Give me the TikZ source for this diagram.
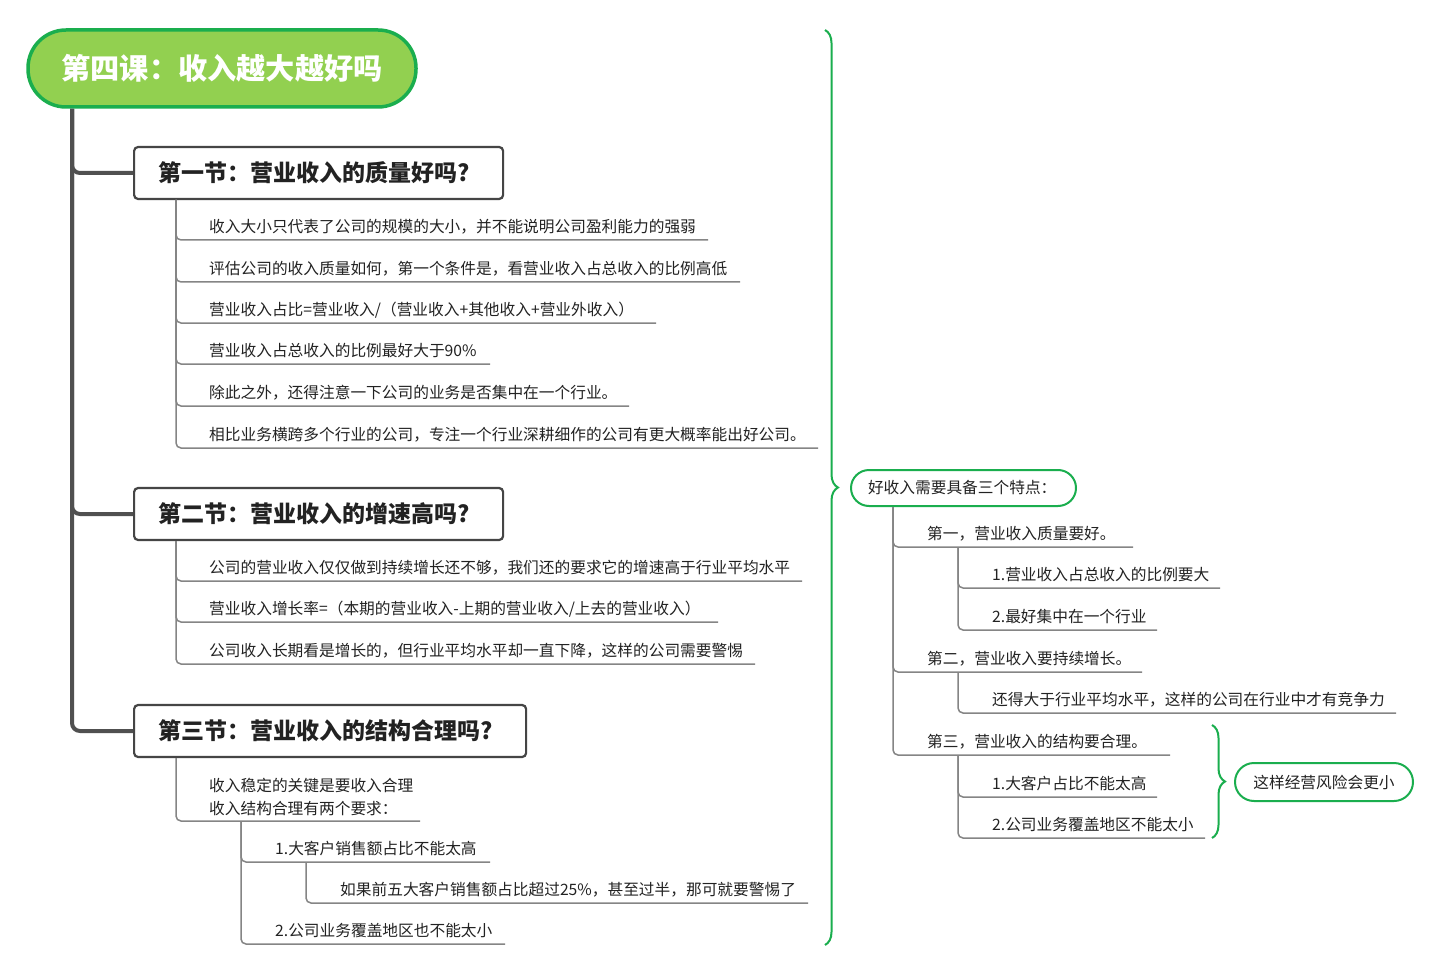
\documentclass[tikz,border=0pt]{standalone}
\usepackage{fontspec}
\setmainfont{Noto Sans CJK SC}
\usetikzlibrary{decorations.pathreplacing}
\definecolor{gfill}{HTML}{92D050}
\definecolor{gline}{HTML}{1AAE4E}
\definecolor{trunkc}{HTML}{505050}
\definecolor{boxc}{HTML}{454545}
\definecolor{leafc}{HTML}{858585}
\definecolor{txt}{HTML}{222222}
\newcommand\myitem[6]{%
  \node[itemtxt] (#1) at (#3,#4) {#6};
  \coordinate (#1e) at (#5,#4+14);
  \draw[leaf] (#2) |- (#1e);
}
\begin{document}
\begin{tikzpicture}[x=1pt,y=-1pt,
  trunk/.style={draw=trunkc, line width=4pt, rounded corners=8pt},
  leaf/.style={draw=leafc, line width=1.5pt, rounded corners=5pt},
  itemtxt/.style={anchor=west, inner sep=0pt, yshift=-1pt, font=\fontsize{15.7}{23}\selectfont, text=txt},
  secbox/.style={draw=boxc, line width=2.2pt, rounded corners=4pt, fill=white, anchor=west,
    inner xsep=24pt, inner ysep=0pt, minimum height=52pt, align=left,
    font=\fontsize{23}{26}\selectfont\bfseries, text=txt},
  gbox/.style={draw=gline, line width=2pt, fill=white, rounded corners=18pt, inner sep=0pt,
    font=\fontsize{15.7}{19}\selectfont, text=txt},
  gbrace/.style={draw=gline, line width=2pt, decorate, decoration={brace, amplitude=13pt}}
]
\useasboundingbox (0,0) rectangle (1440,976);
\fill[white] (0,0) rectangle (1440,976);

% root
\node[draw=gline, line width=3.5pt, fill=gfill, rounded corners=38pt, minimum width=388pt,
  minimum height=77pt, inner sep=0pt, text=white, font=\fontsize{29.2}{32}\selectfont\bfseries]
  (root) at (222,68.5) {第四课：收入越大越好吗};

% sections
\node[secbox, text width=321pt] (s1) at (133,173) {第一节：营业收入的质量好吗?};
\node[secbox, text width=321pt] (s2) at (133,514) {第二节：营业收入的增速高吗?};
\node[secbox, text width=344pt] (s3) at (133,731) {第三节：营业收入的结构合理吗?};

\coordinate (rt) at (72,109);
\draw[trunk] (rt) |- (s1.west);
\draw[trunk] (rt) |- (s2.west);
\draw[trunk] (rt) |- (s3.west);

% section 1 items
\coordinate (v1) at (176,200);
\myitem{a1}{v1}{209}{226}{708}{收入大小只代表了公司的规模的大小，并不能说明公司盈利能力的强弱}
\myitem{a2}{v1}{209}{268}{740}{评估公司的收入质量如何，第一个条件是，看营业收入占总收入的比例高低}
\myitem{a3}{v1}{209}{309}{656}{营业收入占比=营业收入/（营业收入+其他收入+营业外收入）}
\myitem{a4}{v1}{209}{350}{490}{营业收入占总收入的比例最好大于90\%}
\myitem{a5}{v1}{209}{392}{629}{除此之外，还得注意一下公司的业务是否集中在一个行业。}
\myitem{a6}{v1}{209}{434}{818}{相比业务横跨多个行业的公司，专注一个行业深耕细作的公司有更大概率能出好公司。}

% section 2 items
\coordinate (v2) at (176,541);
\myitem{b1}{v2}{209}{567}{802}{公司的营业收入仅仅做到持续增长还不够，我们还的要求它的增速高于行业平均水平}
\myitem{b2}{v2}{209}{608}{718}{营业收入增长率=（本期的营业收入-上期的营业收入/上去的营业收入）}
\myitem{b3}{v2}{209}{650}{755}{公司收入长期看是增长的，但行业平均水平却一直下降，这样的公司需要警惕}

% section 3 items
\coordinate (v3) at (176,758);
\node[itemtxt, align=left] (c1) at (209,795.5) {收入稳定的关键是要收入合理\\收入结构合理有两个要求：};
\coordinate (c1e) at (420,821);
\draw[leaf] (v3) |- (c1e);
\coordinate (v31) at (241,821);
\myitem{c11}{v31}{275}{848}{490}{1.大客户销售额占比不能太高}
\coordinate (v311) at (306,862);
\myitem{c111}{v311}{340}{889}{808}{如果前五大客户销售额占比超过25\%，甚至过半，那可就要警惕了}
\myitem{c12}{v31}{275}{930}{505}{2.公司业务覆盖地区也不能太小}

% big brace
\draw[gbrace] (825,30) -- (825,945);

% right tree
\node[gbox, minimum width=225pt, minimum height=36pt, anchor=west, inner xsep=17pt, text width=191pt, align=left]
  (r) at (850,488) {好收入需要具备三个特点：};
\coordinate (rv) at (893,507);
\myitem{r1}{rv}{927}{533}{1133}{第一，营业收入质量要好。}
\coordinate (rv1) at (958,547);
\myitem{r11}{rv1}{992}{574}{1220}{1.营业收入占总收入的比例要大}
\myitem{r12}{rv1}{992}{616}{1157}{2.最好集中在一个行业}
\myitem{r2}{rv}{927}{658}{1142}{第二，营业收入要持续增长。}
\coordinate (rv2) at (958,672);
\myitem{r21}{rv2}{992}{699}{1396}{还得大于行业平均水平，这样的公司在行业中才有竞争力}
\myitem{r3}{rv}{927}{741}{1170}{第三，营业收入的结构要合理。}
\coordinate (rv3) at (958,755);
\myitem{r31}{rv3}{992}{783}{1157}{1.大客户占比不能太高}
\myitem{r32}{rv3}{992}{824}{1205}{2.公司业务覆盖地区不能太小}

% small brace and note
\draw[gbrace] (1212,725) -- (1212,838);
\node[gbox, minimum width=178pt, minimum height=38pt, rounded corners=19pt] (n) at (1324,782) {这样经营风险会更小};
\end{tikzpicture}
\end{document}
